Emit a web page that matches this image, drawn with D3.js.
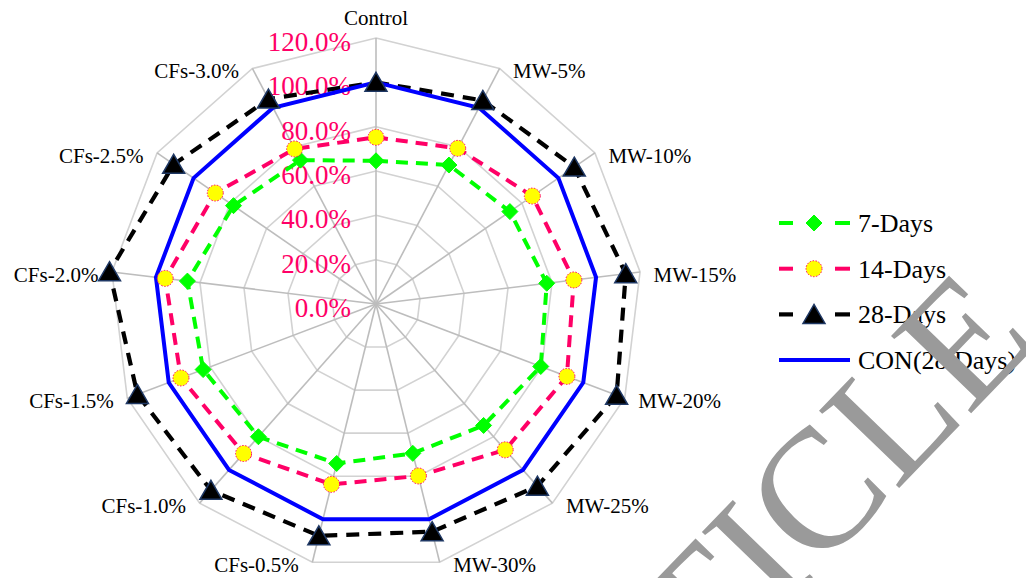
<!DOCTYPE html>
<html>
<head>
<meta charset="utf-8">
<script src="https://cdn.jsdelivr.net/npm/d3@7"></script>
<style>
  html, body { margin: 0; padding: 0; background: #fff; }
  svg { display: block; }
  text { font-family: "Liberation Serif", "Times New Roman", serif; }
</style>
</head>
<body>
<svg id="chart" width="1026" height="578"></svg>
<script>
// Compressive strength relative to the 28-day control mix (%)
const categories = ["Control", "MW-5%", "MW-10%", "MW-15%", "MW-20%", "MW-25%", "MW-30%",
                    "CFs-0.5%", "CFs-1.0%", "CFs-1.5%", "CFs-2.0%", "CFs-2.5%", "CFs-3.0%"];
const days7  = [64.6, 70.8, 73.4, 77.6, 79.5, 73.2, 69.4, 74.1, 80.0, 83.4, 85.7, 78.1, 73.3];
const days14 = [75.2, 79.3, 85.7, 89.9, 92.1, 87.9, 79.9, 83.8, 90.1, 94.1, 95.8, 88.1, 79.0];
const days28 = [100.0, 103.7, 108.7, 113.5, 116.1, 109.8, 105.8, 107.7, 112.3, 115.1, 121.1, 110.9, 104.4];
const con28  = [100, 100, 100, 100, 100, 100, 100, 100, 100, 100, 100, 100, 100];
const tickValues = [0, 20, 40, 60, 80, 100, 120];
const tickLabels = ["0.0%", "20.0%", "40.0%", "60.0%", "80.0%", "100.0%", "120.0%"];
const seriesNames = ["7-Days", "14-Days", "28-Days", "CON(28 Days)"];

const svg = d3.select("#chart");
const cx = 376, cy = 304, R = 266;
const n = categories.length;

const r = d3.scaleLinear().domain([0, 120]).range([0, R]);
const angle = d3.scaleLinear().domain([0, n]).range([0, 2 * Math.PI]);

const g = svg.append("g").attr("transform", `translate(${cx},${cy})`);

const pt = (i, v) => {
  const a = angle(i);
  return [r(v) * Math.sin(a), -r(v) * Math.cos(a)];
};

// Grid rings
const ring = d3.lineRadial()
  .angle((d, i) => angle(i))
  .radius(d => r(d))
  .curve(d3.curveLinearClosed);

g.selectAll(".ring").data(tickValues.slice(1)).join("path")
  .attr("class", "ring")
  .attr("d", v => ring(categories.map(() => v)))
  .attr("fill", "none")
  .attr("stroke", "#d2d2d2")
  .attr("stroke-width", 1.6);

// Spokes
g.selectAll(".spoke").data(categories).join("line")
  .attr("class", "spoke")
  .attr("x1", 0).attr("y1", 0)
  .attr("x2", (d, i) => pt(i, 120)[0])
  .attr("y2", (d, i) => pt(i, 120)[1])
  .attr("stroke", "#bdbdbd")
  .attr("stroke-width", 1.6);

// Radial tick labels
g.selectAll(".tick").data(tickValues).join("text")
  .attr("class", "tick")
  .attr("x", -25)
  .attr("y", v => -r(v) + 13)
  .attr("text-anchor", "end")
  .attr("font-size", 27)
  .attr("fill", "#ff0066")
  .text((v, i) => tickLabels[i]);

// Category labels
g.selectAll(".cat").data(categories).join("text")
  .attr("class", "cat")
  .attr("x", (d, i) => {
    const [x] = pt(i, 120);
    if (i === 0) return x;
    return x + (x > 0 ? 13.5 : -13.5);
  })
  .attr("y", (d, i) => i === 0 ? pt(i, 120)[1] - 13 : pt(i, 120)[1] + 10)
  .attr("text-anchor", (d, i) => i === 0 ? "middle" : (pt(i, 120)[0] > 0 ? "start" : "end"))
  .attr("font-size", 21)
  .attr("fill", "#000")
  .text(d => d);

// Marker shapes
const diamond = s => `M0,${-s}L${s},0L0,${s}L${-s},0Z`;
const triangle = s => `M0,${-s}L${s * 1.1},${s * 0.9}L${-s * 1.1},${s * 0.9}Z`;

const series = [
  { name: seriesNames[0], values: days7,  color: "#00ff00", width: 4,   dash: "12,8", marker: "diamond" },
  { name: seriesNames[1], values: days14, color: "#ff0066", width: 4,   dash: "12,8", marker: "circle" },
  { name: seriesNames[2], values: days28, color: "#000000", width: 4.2, dash: "13,9", marker: "triangle" },
  { name: seriesNames[3], values: con28,  color: "#0000ff", width: 4,   dash: null,   marker: null }
];

const line = d3.lineRadial()
  .angle((d, i) => angle(i))
  .radius(d => r(d))
  .curve(d3.curveLinearClosed);

series.forEach(s => {
  g.append("path")
    .attr("d", line(s.values))
    .attr("fill", "none")
    .attr("stroke", s.color)
    .attr("stroke-width", s.width)
    .attr("stroke-dasharray", s.dash)
    .attr("stroke-linejoin", "miter");
});

function drawMarker(sel, type) {
  if (type === "diamond") {
    sel.append("path").attr("d", diamond(8)).attr("fill", "#00ff00").attr("stroke", "#00ff00").attr("stroke-width", 1);
  } else if (type === "circle") {
    sel.append("circle").attr("r", 8).attr("fill", "#ffff00")
      .attr("stroke", "#ff0066").attr("stroke-width", 1).attr("stroke-dasharray", "1.5,1.5");
  } else if (type === "triangle") {
    sel.append("path").attr("d", triangle(10)).attr("fill", "#000")
      .attr("stroke", "#1f3864").attr("stroke-width", 1.5);
  }
}

series.filter(s => s.marker).forEach(s => {
  s.values.forEach((v, i) => {
    const [x, y] = pt(i, v);
    const m = g.append("g").attr("transform", `translate(${x},${y})`);
    drawMarker(m, s.marker);
  });
});

// Legend
const legend = svg.append("g").attr("transform", "translate(779,223)");
series.forEach((s, i) => {
  const row = legend.append("g").attr("transform", `translate(0,${i * 45.7})`);
  if (s.marker) {
    row.append("line").attr("x1", 0).attr("x2", 14).attr("y1", 0).attr("y2", 0)
      .attr("stroke", s.color).attr("stroke-width", s.width);
    row.append("line").attr("x1", 56).attr("x2", 71).attr("y1", 0).attr("y2", 0)
      .attr("stroke", s.color).attr("stroke-width", s.width);
    const m = row.append("g").attr("transform", "translate(35,0)");
    drawMarker(m, s.marker);
  } else {
    row.append("line").attr("x1", 0).attr("x2", 71).attr("y1", 0).attr("y2", 0)
      .attr("stroke", s.color).attr("stroke-width", s.width);
  }
  row.append("text")
    .attr("x", 79).attr("y", 9)
    .attr("font-size", 26)
    .attr("fill", "#000")
    .text(s.name);
});

// Retraction stamp across the lower right
svg.append("text")
  .attr("transform", "translate(1040,342) rotate(-46)")
  .attr("text-anchor", "end")
  .attr("font-size", 170)
  .attr("fill", "#9a9a9a")
  .text("RETRACTED ARTICLE");
</script>
</body>
</html>
